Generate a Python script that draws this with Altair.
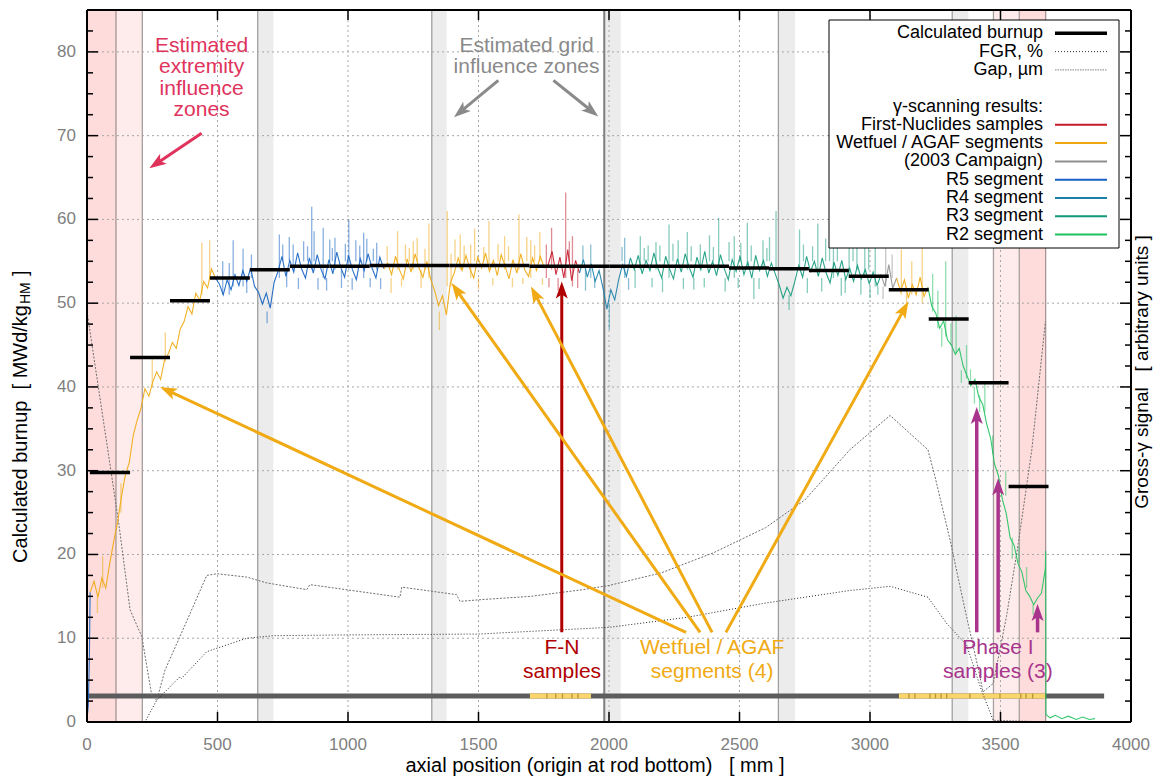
import math
import altair as alt
import pandas as pd

FONT = "Liberation Sans"
W, H = 1044, 712
XMAX, YMAX = 4000, 85
SX, SY = W / XMAX, H / YMAX
XS = alt.Scale(domain=[0, XMAX], nice=False, zero=False)
YS = alt.Scale(domain=[0, YMAX], nice=False, zero=False)

# ---------------- data ----------------
x_tick_values = [0, 500, 1000, 1500, 2000, 2500, 3000, 3500, 4000]
y_tick_values = [0, 10, 20, 30, 40, 50, 60, 70, 80]
y_minor_ticks = [i * 2.5 for i in range(35)]

# calculated burnup (step profile)
step_edges = [11, 165, 318, 471, 624, 777, 930, 1083, 1236, 1389, 1542, 1695, 1848,
              2001, 2154, 2307, 2460, 2613, 2766, 2919, 3072, 3225, 3378, 3531, 3684]
step_vals = [29.8, 43.5, 50.3, 53.0, 54.0, 54.4, 54.4, 54.5, 54.5, 54.5, 54.5, 54.4,
             54.4, 54.4, 54.4, 54.4, 54.2, 54.1, 53.9, 53.2, 51.6, 48.1, 40.5, 28.1]

# FGR, %
fgr_x = [0, 222, 267, 356, 362, 459, 612, 714, 1000, 1500, 2000, 2300, 2600, 2923,
         3077, 3222, 3293, 3370, 3427, 3472, 3690]
fgr_y = [0, 0, 2.6, 5.4, 5.2, 8.4, 10.0, 10.3, 10.4, 10.5, 11.3, 12.5, 14.2, 15.7,
         16.2, 14.9, 11.8, 9.2, 3.8, 0.2, 0]

# Gap, um
gap_x = [0, 120, 165, 210, 248, 267, 299, 356, 459, 497, 612, 689, 842, 854, 1199,
         1206, 1416, 1429, 1506, 1700, 1900, 2000, 2200, 2400, 2600, 2750, 2923, 3077,
         3222, 3249, 3307, 3364, 3416, 3433, 3472, 3523, 3568, 3620, 3672]
gap_y = [49, 24.1, 13.4, 10.2, 3.2, 2.6, 6.2, 10.2, 17.5, 17.7, 17.3, 16.6, 15.8,
         16.4, 14.9, 16.1, 15.2, 14.4, 14.6, 15.0, 15.8, 16.3, 17.8, 20.2, 23.2, 26.5,
         32.5, 36.6, 32.5, 29.3, 21.7, 13.4, 6.2, 3.6, 4.6, 12.6, 21.3, 32.5, 47.8]

# gamma scanning signal (sampled every 15 mm inside each segment)
lead_r5_x = [0, 5, 9, 12]
lead_r5_y = [0.3, 2.0, 7.5, 15.5]
wf1_x0, wf1_vals = 12, [15.5, 16.8, 14.9, 17.2, 16.0, 18.9, 21.5, 23.8, 26.9, 29.5, 31.0,
                        34.2, 36.0, 37.5, 39.8, 38.9, 40.6, 41.8, 40.9, 43.2, 44.0, 45.3,
                        44.6, 46.9, 47.8, 49.6, 48.7, 51.2, 50.3, 52.6, 51.8, 54.1, 53.0]
r5_x0, r5_vals = 492, [53.0, 52.3, 51.0, 52.8, 51.6, 53.4, 52.1, 53.9, 52.6, 54.2, 52.0,
                       51.3, 49.9, 51.2, 49.4, 52.5, 53.8, 55.6, 53.2, 55.1, 53.7, 56.0,
                       54.1, 53.0, 55.4, 53.6, 55.8, 54.0, 52.9, 55.2, 53.5, 56.1, 54.3,
                       53.1, 55.7, 54.0, 52.8, 55.3, 53.9, 55.9, 54.2, 53.0, 55.5, 54.1]
wf2_x0, wf2_vals = 1137, [54.1, 54.8, 53.4, 55.6, 54.0, 52.9, 55.3, 53.7, 55.9, 54.2, 53.1,
                          55.0, 52.8, 51.5, 49.7, 50.9, 48.6, 52.4, 53.6, 55.4, 53.9, 55.7,
                          54.1, 53.0, 55.5, 54.2, 56.0, 53.8, 55.1, 53.3, 55.8, 54.4, 52.9,
                          55.2, 53.6, 55.9, 54.0, 53.2, 55.4, 53.9, 55.6, 54.2]
fn_x0, fn_vals = 1752, [54.2, 54.6, 56.2, 53.4, 55.5, 53.0, 56.4, 52.7, 55.1, 53.6]
r4_x0, r4_vals = 1887, [53.6, 55.2, 53.1, 54.7, 52.6, 53.9, 51.8, 49.3, 51.6, 50.4, 52.8,
                        54.6, 53.2, 55.4]
r3_x0, r3_vals = 2082, [55.4, 54.0, 55.7, 53.5, 55.1, 53.9, 56.0, 54.2, 53.0, 55.6, 54.1,
                        52.9, 55.3, 53.7, 55.9, 54.3, 53.1, 55.5, 54.0, 56.2, 53.6, 55.0,
                        53.3, 55.8, 54.1, 52.8, 55.2, 53.8, 55.6, 53.4, 54.9, 53.0, 55.7,
                        53.9, 55.1, 53.2, 54.8, 53.5, 52.2, 50.6, 51.9, 50.9, 52.6, 54.5,
                        53.1, 55.6, 53.8, 55.0, 53.2, 55.4, 53.6, 52.4, 54.9, 53.3, 55.1,
                        52.8, 54.2, 52.6, 54.5, 52.9, 54.0, 52.3, 53.7, 52.1, 53.4]
c03_x0, c03_vals = 3042, [53.4, 52.0, 54.6, 51.8, 53.0]
wf3_x0, wf3_vals = 3102, [53.0, 51.4, 52.8, 50.6, 52.2, 51.0, 53.1, 50.8, 51.9]
r2_x0, r2_vals = 3222, [51.9, 49.6, 48.8, 47.0, 47.9, 45.6, 45.0, 43.9, 44.6, 42.5, 41.3,
                        40.2, 40.9, 38.8, 37.9, 35.6, 33.9, 30.8, 29.4, 26.6, 24.9, 22.0,
                        21.1, 18.9, 17.9, 15.7, 15.0, 14.0, 14.8, 15.4, 18.3]
r2_tail_x = [3672, 3673, 3674, 3690, 3710, 3735, 3760, 3790, 3815, 3840, 3862]
r2_tail_y = [18.3, 20.4, 0.9, 0.5, 0.8, 0.4, 0.7, 0.3, 0.6, 0.3, 0.4]

# single-sample spikes: (x, from, to)
spikes_wf = [(40, 15, 13.0), (60, 16, 19.8), (130, 25, 28.5), (250, 40, 43.5), (300, 43, 46.5),
             (440, 51, 57.2), (470, 53, 57.5), (1165, 53, 51.2), (1190, 54, 58.6), (1220, 55, 57.0),
             (1250, 54, 57.4), (1280, 54, 51.8), (1310, 53, 59.5), (1380, 52, 61.0),
             (1350, 49, 46.8), (1410, 55, 57.6), (1430, 54, 58.2), (1470, 53, 57.0),
             (1500, 53, 51.7), (1540, 54, 59.8), (1575, 55, 57.1), (1600, 54, 58.0),
             (1630, 53, 51.9), (1655, 54, 60.6), (1685, 55, 57.9), (1700, 53, 57.5),
             (1735, 55, 58.5), (1150, 55, 56.8), (1205, 53, 52.0), (1235, 55, 56.6),
             (1265, 55, 57.8), (1295, 54, 56.5), (1395, 52, 55.9), (1445, 55, 56.9),
             (1485, 55, 58.9), (1520, 55, 56.7), (1555, 53, 52.1), (1615, 55, 56.8),
             (1670, 53, 52.3), (1715, 55, 56.9), (1745, 53, 52.2),
             (3120, 51, 56.4), (3160, 51, 55.0), (3200, 50, 57.8), (3140, 52, 49.8)]
spikes_r5 = [(520, 51, 55.0), (560, 52, 57.5), (598, 52, 56.5), (630, 53, 55.8), (690, 49, 47.6),
             (737, 53, 58.2), (765, 54, 51.9), (790, 54, 57.0), (830, 55, 57.4),
             (861, 54, 61.5), (885, 53, 51.6), (905, 53, 59.0), (930, 55, 57.6),
             (950, 54, 57.8), (975, 54, 51.8), (1003, 54, 60.0), (1030, 55, 57.5),
             (1060, 53, 58.4), (1085, 53, 51.9), (1110, 54, 57.2), (545, 51, 54.8),
             (612, 53, 51.2), (750, 55, 57.0), (775, 55, 57.9), (810, 53, 51.7),
             (845, 55, 56.8), (870, 55, 58.6), (918, 53, 51.5), (940, 55, 56.6),
             (990, 55, 57.1), (1016, 53, 51.6), (1045, 55, 56.9), (1072, 55, 57.7),
             (1097, 55, 56.5), (1125, 53, 51.7)]
spikes_fn = [(1760, 53, 57.0), (1780, 54, 59.0), (1805, 53, 51.5), (1834, 53, 63.2),
             (1860, 52, 58.0), (1880, 54, 51.8), (1770, 53, 51.9), (1848, 55, 57.4)]
spikes_r4 = [(1910, 54, 51.5), (1930, 53, 57.0), (2001, 50, 46.8), (2060, 53, 57.8),
             (2075, 53, 51.6), (1900, 55, 56.9), (1945, 53, 51.8), (2050, 55, 56.7)]
spikes_r3 = [(2100, 54, 51.8), (2120, 54, 58.0), (2150, 55, 56.9), (2180, 54, 57.3),
             (2205, 53, 51.3), (2230, 53, 59.4), (2265, 55, 57.5), (2300, 54, 58.5),
             (2325, 53, 51.6), (2350, 54, 57.0), (2385, 55, 58.1), (2420, 54, 60.2),
             (2445, 53, 51.4), (2480, 53, 58.0), (2505, 55, 57.2), (2530, 54, 59.6),
             (2555, 53, 50.5), (2590, 54, 57.5), (2615, 55, 57.9), (2640, 54, 61.0),
             (2730, 54, 58.8), (2760, 53, 51.2), (2800, 54, 59.5), (2830, 55, 57.7),
             (2860, 53, 60.8), (2890, 53, 50.9), (2920, 53, 57.8), (2950, 54, 57.0),
             (2980, 53, 59.0), (3000, 52, 50.6), (3020, 52, 61.5), (2135, 55, 56.6),
             (2165, 53, 51.9), (2195, 55, 56.9), (2245, 55, 57.1), (2285, 53, 51.7),
             (2315, 55, 56.8), (2365, 53, 51.9), (2400, 55, 56.7), (2460, 55, 57.3),
             (2495, 53, 51.8), (2545, 55, 56.9), (2575, 53, 51.7), (2605, 55, 56.6),
             (2690, 51, 49.2), (2745, 55, 57.0), (2780, 55, 56.8), (2815, 53, 51.4),
             (2845, 55, 57.2), (2875, 55, 56.9), (2905, 53, 51.2), (2935, 55, 56.7),
             (2965, 53, 51.0), (2995, 54, 56.8), (3030, 52, 51.0)]
spikes_03 = [(3060, 52, 57.0), (3085, 53, 55.8), (3050, 52, 50.5)]
spikes_r2 = [(3240, 49, 53.5), (3260, 47, 51.5), (3290, 46, 55.0), (3330, 44, 48.5),
             (3370, 41, 45.0), (3400, 40, 38.0), (3440, 37, 40.5), (3520, 27, 30.0),
             (3545, 22, 19.5), (3600, 16, 18.5), (3275, 47, 44.8), (3310, 45, 47.6),
             (3350, 42, 40.5), (3385, 40, 42.1), (3420, 39, 37.0), (3470, 32, 34.2),
             (3495, 29, 26.5), (3570, 19, 21.0), (3625, 14, 12.8)]

# influence zones
band_start = [0, 111, 654, 1321, 1982, 2649, 3315, 3473, 3572]
band_end = [111, 212, 714, 1378, 2045, 2713, 3377, 3572, 3673]
band_kind = ["extremity", "extremity-out", "grid", "grid", "grid", "grid", "grid",
             "extremity-out", "extremity"]

# bottom strip (measured rod / sampled parts)
strip_end = 3897
strip_y = 3.1
yellow_start = [1697, 3111]
yellow_end = [1931, 3671]
yellow_marks = [1762, 1796, 1822, 1858, 1881, 3149, 3172, 3230, 3251, 3272, 3294, 3383,
                3498, 3578, 3598, 3623]

# ---------------- styles ----------------
COL_FN = "#c41a2a"
COL_WF = "#f0a810"
COL_03 = "#8e8e8e"
COL_R5 = "#1462c2"
COL_R4 = "#1a80a8"
COL_R3 = "#12997c"
COL_R2 = "#1fc25e"
BAND_FILL = {"extremity": "#fddcdb", "extremity-out": "#fdeceb", "grid": "#ececec"}
BAND_EDGE = {"extremity": "#a89494", "extremity-out": "#a8a0a0", "grid": "#a0a0a0"}
GRID_COL = "#a6a6a6"
LABEL_COL = "#808080"

layers = []
one = pd.DataFrame({"a": [0]})

# zones
df_b = pd.DataFrame({"x0": band_start, "x1": band_end, "kind": band_kind})
df_b["fill"] = df_b["kind"].map(BAND_FILL)
layers.append(alt.Chart(df_b).mark_rect().encode(
    x=alt.X("x0:Q", scale=XS, axis=None), x2="x1:Q", y=alt.value(0), y2=alt.value(H),
    color=alt.Color("fill:N", scale=None)))

# grid (dotted)
layers.append(alt.Chart(pd.DataFrame({"x": x_tick_values[1:-1]})).mark_rule(
    strokeWidth=1, color=GRID_COL, strokeDash=[2, 3]).encode(
    x=alt.X("x:Q", scale=XS, axis=None), y=alt.value(0), y2=alt.value(H)))
layers.append(alt.Chart(pd.DataFrame({"y": y_tick_values[1:]})).mark_rule(
    strokeWidth=1, color=GRID_COL, strokeDash=[2, 3]).encode(
    y=alt.Y("y:Q", scale=YS, axis=None), x=alt.value(0), x2=alt.value(W)))

# zone edges
edges = []
for s, e, k in zip(band_start, band_end, band_kind):
    if s > 0:
        edges.append((s, BAND_EDGE[k]))
    if k != "grid":
        edges.append((e, BAND_EDGE[k]))
df_e = pd.DataFrame(edges, columns=["x", "c"]).drop_duplicates("x")
layers.append(alt.Chart(df_e).mark_rule(strokeWidth=1.3).encode(
    x=alt.X("x:Q", scale=XS, axis=None), y=alt.value(0), y2=alt.value(H),
    color=alt.Color("c:N", scale=None)))
layers.append(alt.Chart(pd.DataFrame({"x": [1982]})).mark_rule(strokeWidth=2, color="#808080").encode(
    x=alt.X("x:Q", scale=XS, axis=None), y=alt.value(0), y2=alt.value(H)))

# bottom strip
layers.append(alt.Chart(pd.DataFrame({"x0": [0], "x1": [strip_end], "y": [strip_y]}))
              .mark_rule(strokeWidth=5, color="#5c5c5c").encode(
    x=alt.X("x0:Q", scale=XS, axis=None), x2="x1:Q", y=alt.Y("y:Q", scale=YS, axis=None)))
layers.append(alt.Chart(pd.DataFrame({"x0": yellow_start, "x1": yellow_end, "y": [strip_y] * 2}))
              .mark_rule(strokeWidth=5, color="#f9d56c").encode(
    x=alt.X("x0:Q", scale=XS, axis=None), x2="x1:Q", y=alt.Y("y:Q", scale=YS, axis=None)))
layers.append(alt.Chart(pd.DataFrame({"x": yellow_marks, "y0": [strip_y - 0.3] * len(yellow_marks),
                                      "y1": [strip_y + 0.3] * len(yellow_marks)}))
              .mark_rule(strokeWidth=1.3, color="#b8962e").encode(
    x=alt.X("x:Q", scale=XS, axis=None), y=alt.Y("y0:Q", scale=YS, axis=None), y2="y1:Q"))

# FGR and gap
layers.append(alt.Chart(pd.DataFrame({"x": gap_x, "y": gap_y})).mark_line(
    color="#6e6e6e", strokeWidth=1, strokeDash=[2, 1.5]).encode(
    x=alt.X("x:Q", scale=XS, axis=None), y=alt.Y("y:Q", scale=YS, axis=None)))
layers.append(alt.Chart(pd.DataFrame({"x": fgr_x, "y": fgr_y})).mark_line(
    color="#222222", strokeWidth=1, strokeDash=[1, 2]).encode(
    x=alt.X("x:Q", scale=XS, axis=None), y=alt.Y("y:Q", scale=YS, axis=None)))

# gamma signal
rows = []
def add_seg(name, col, xs, ys):
    for xv, yv in zip(xs, ys):
        rows.append({"x": xv, "y": yv, "seg": name, "c": col})

def grid_x(x0, vals):
    return [x0 + 15 * i for i in range(len(vals))]

add_seg("lead", COL_R5, lead_r5_x, lead_r5_y)
add_seg("wf1", COL_WF, grid_x(wf1_x0, wf1_vals), wf1_vals)
add_seg("r5", COL_R5, grid_x(r5_x0, r5_vals), r5_vals)
add_seg("wf2", COL_WF, grid_x(wf2_x0, wf2_vals), wf2_vals)
add_seg("fn", COL_FN, grid_x(fn_x0, fn_vals), fn_vals)
add_seg("r4", COL_R4, grid_x(r4_x0, r4_vals), r4_vals)
add_seg("r3", COL_R3, grid_x(r3_x0, r3_vals), r3_vals)
add_seg("c03", COL_03, grid_x(c03_x0, c03_vals), c03_vals)
add_seg("wf3", COL_WF, grid_x(wf3_x0, wf3_vals), wf3_vals)
add_seg("r2", COL_R2, grid_x(r2_x0, r2_vals), r2_vals)
add_seg("r2tail", COL_R2, r2_tail_x, r2_tail_y)
df_sig = pd.DataFrame(rows)

sp_rows = []
for lst, col in [(spikes_wf, COL_WF), (spikes_r5, COL_R5), (spikes_fn, COL_FN), (spikes_r4, COL_R4),
                 (spikes_r3, COL_R3), (spikes_03, COL_03), (spikes_r2, COL_R2)]:
    for xv, lo, hi in lst:
        sp_rows.append({"x": xv, "lo": lo, "hi": hi, "c": col})
df_sp = pd.DataFrame(sp_rows)
layers.append(alt.Chart(df_sp).mark_rule(strokeWidth=1.3, opacity=0.5).encode(
    x=alt.X("x:Q", scale=XS, axis=None), y=alt.Y("lo:Q", scale=YS, axis=None), y2="hi:Q",
    color=alt.Color("c:N", scale=None)))
layers.append(alt.Chart(df_sig).mark_line(strokeWidth=1.1, opacity=0.9).encode(
    x=alt.X("x:Q", scale=XS, axis=None), y=alt.Y("y:Q", scale=YS, axis=None),
    detail="seg:N", color=alt.Color("c:N", scale=None), order="x:Q"))

# calculated burnup
df_st = pd.DataFrame({"x0": step_edges[:-1], "x1": step_edges[1:], "v": step_vals})
layers.append(alt.Chart(df_st).mark_rule(strokeWidth=3.5, color="black").encode(
    x=alt.X("x0:Q", scale=XS, axis=None), x2="x1:Q", y=alt.Y("v:Q", scale=YS, axis=None)))

# annotation arrows
HEAD = "M0,0 L0.6,1.7 L0,1.3 L-0.6,1.7 Z"
arrows = [
    (439, 70.3, 239, 66.1, "#e0335c", 3),
    (1576, 76.6, 1406, 72.2, "#8a8a8a", 3),
    (1787, 76.6, 1959, 72.3, "#8a8a8a", 3),
    (1819, 10.7, 1819, 52.6, "#b00000", 3),
    (2295, 10.7, 280, 40.0, "#f0aa14", 3),
    (2349, 10.7, 1397, 52.4, "#f0aa14", 3),
    (2395, 10.7, 1701, 52.0, "#f0aa14", 3),
    (2448, 10.7, 3147, 50.2, "#f0aa14", 3),
    (3409, 10.7, 3409, 37.6, "#a8348c", 3.5),
    (3491, 10.7, 3491, 29.1, "#a8348c", 3.5),
    (3642, 10.7, 3642, 14.1, "#a8348c", 3.5),
]
ar_rows = []
for x1, y1, x2, y2, col, w in arrows:
    dxp, dyp = (x2 - x1) * SX, -(y2 - y1) * SY
    L = math.hypot(dxp, dyp)
    ang = math.degrees(math.atan2(dxp, -dyp)) % 360
    f = (L - 11) / L
    ar_rows.append({"x1": x1, "y1": y1, "xe": x1 + (x2 - x1) * f, "ye": y1 + (y2 - y1) * f,
                    "x2": x2, "y2": y2, "ang": ang, "c": col, "w": w})
df_ar = pd.DataFrame(ar_rows)
for w in sorted(df_ar["w"].unique()):
    sub = df_ar[df_ar["w"] == w]
    layers.append(alt.Chart(sub).mark_rule(strokeWidth=float(w)).encode(
        x=alt.X("x1:Q", scale=XS, axis=None), y=alt.Y("y1:Q", scale=YS, axis=None),
        x2="xe:Q", y2="ye:Q", color=alt.Color("c:N", scale=None)))
layers.append(alt.Chart(df_ar).mark_point(shape=HEAD, filled=True, size=400, opacity=1,
                                          strokeWidth=0).encode(
    x=alt.X("x2:Q", scale=XS, axis=None), y=alt.Y("y2:Q", scale=YS, axis=None),
    angle=alt.Angle("ang:Q", scale=None), color=alt.Color("c:N", scale=None)))

# annotation texts
notes = [
    ("Estimated", 439, 80.7, "#e0335c"), ("extremity", 439, 78.2, "#e0335c"),
    ("influence", 439, 75.6, "#e0335c"), ("zones", 439, 73.1, "#e0335c"),
    ("Estimated grid", 1684, 80.7, "#8a8a8a"), ("influence zones", 1684, 78.2, "#8a8a8a"),
    ("F-N", 1820, 8.8, "#b00000"), ("samples", 1820, 6.0, "#b00000"),
    ("Wetfuel / AGAF", 2395, 8.8, "#f0aa14"), ("segments (4)", 2395, 6.0, "#f0aa14"),
    ("Phase I", 3490, 8.8, "#a8348c"), ("samples (3)", 3490, 6.0, "#a8348c"),
]
df_n = pd.DataFrame(notes, columns=["t", "x", "y", "c"])
layers.append(alt.Chart(df_n).mark_text(font=FONT, fontSize=21, baseline="middle", align="center").encode(
    x=alt.X("x:Q", scale=XS, axis=None), y=alt.Y("y:Q", scale=YS, axis=None), text="t:N",
    color=alt.Color("c:N", scale=None)))

# legend
layers.append(alt.Chart(one).mark_rect(fill="white", stroke="black", strokeWidth=1).encode(
    x=alt.value(742), x2=alt.value(1032), y=alt.value(10), y2=alt.value(238)))
legend_items = [
    ("Calculated burnup", "black", 3.5, None),
    ("FGR, %", "#333333", 1, [1, 2]),
    ("Gap, \u00b5m", "#808080", 1, [1.5, 1]),
    (None, None, None, None),
    ("\u03b3-scanning results:", None, None, None),
    ("First-Nuclides samples", COL_FN, 2, None),
    ("Wetfuel / AGAF segments", COL_WF, 2, None),
    ("(2003 Campaign)", COL_03, 2, None),
    ("R5 segment", COL_R5, 2, None),
    ("R4 segment", COL_R4, 2, None),
    ("R3 segment", COL_R3, 2, None),
    ("R2 segment", COL_R2, 2, None),
]
for i, (lab, col, w, dash) in enumerate(legend_items):
    py = 23.3 + 18.3 * i
    if lab is None:
        continue
    layers.append(alt.Chart(one).mark_text(text=lab, font=FONT, fontSize=18, align="right",
                                           baseline="middle", color="black").encode(
        x=alt.value(956), y=alt.value(py)))
    if col is not None:
        kw = dict(strokeWidth=w, color=col)
        if dash:
            kw["strokeDash"] = dash
        layers.append(alt.Chart(one).mark_rule(**kw).encode(
            x=alt.value(968), x2=alt.value(1020), y=alt.value(py)))

# frame and inward ticks
for enc in [dict(x=alt.value(0), x2=alt.value(W), y=alt.value(0)),
            dict(x=alt.value(0), x2=alt.value(W), y=alt.value(H)),
            dict(x=alt.value(0), y=alt.value(0), y2=alt.value(H)),
            dict(x=alt.value(W), y=alt.value(0), y2=alt.value(H))]:
    layers.append(alt.Chart(one).mark_rule(strokeWidth=2, color="black").encode(**enc))
df_xt = pd.DataFrame({"x": x_tick_values[1:-1]})
for y0, y1 in [(H, H - 10), (0, 10)]:
    layers.append(alt.Chart(df_xt).mark_rule(strokeWidth=1.5, color="black").encode(
        x=alt.X("x:Q", scale=XS, axis=None), y=alt.value(y0), y2=alt.value(y1)))
df_ymin = pd.DataFrame({"y": [v for v in y_minor_ticks if v % 10 != 0]})
df_ymaj = pd.DataFrame({"y": y_tick_values[1:]})
for df_t, ln in [(df_ymin, 6), (df_ymaj, 11)]:
    for x0, x1 in [(0, ln), (W - ln, W)]:
        layers.append(alt.Chart(df_t).mark_rule(strokeWidth=1.5, color="black").encode(
            y=alt.Y("y:Q", scale=YS, axis=None), x=alt.value(x0), x2=alt.value(x1)))

# tick labels
df_xl = pd.DataFrame({"x": x_tick_values, "t": [str(v) for v in x_tick_values]})
layers.append(alt.Chart(df_xl).mark_text(font=FONT, fontSize=17, color=LABEL_COL, align="center",
                                         baseline="middle").encode(
    x=alt.X("x:Q", scale=XS, axis=None), y=alt.value(H + 23), text="t:N"))
df_yl = pd.DataFrame({"y": y_tick_values, "t": [str(v) for v in y_tick_values]})
layers.append(alt.Chart(df_yl).mark_text(font=FONT, fontSize=17, color=LABEL_COL, align="right",
                                         baseline="middle").encode(
    y=alt.Y("y:Q", scale=YS, axis=None), x=alt.value(-11), text="t:N"))

# axis titles
layers.append(alt.Chart(one).mark_text(text="axial position (origin at rod bottom)\u00a0\u00a0\u00a0[ mm ]",
                                       font=FONT, fontSize=20, align="center", baseline="middle",
                                       color="black").encode(x=alt.value(508), y=alt.value(H + 44)))
layers.append(alt.Chart(one).mark_text(text="Calculated burnup\u00a0\u00a0[ MWd/kg", font=FONT,
                                       fontSize=20, align="right", baseline="middle", angle=270,
                                       color="black").encode(x=alt.value(-66), y=alt.value(295)))
layers.append(alt.Chart(one).mark_text(text="HM", font=FONT, fontSize=14, align="left",
                                       baseline="middle", angle=270, dy=5, color="black").encode(
    x=alt.value(-66), y=alt.value(294)))
layers.append(alt.Chart(one).mark_text(text="]", font=FONT, fontSize=20, align="left",
                                       baseline="middle", angle=270, color="black").encode(
    x=alt.value(-66), y=alt.value(266)))
layers.append(alt.Chart(one).mark_text(text="Gross-\u03b3 signal\u00a0\u00a0\u00a0[ arbitrary units ]",
                                       font=FONT, fontSize=19, align="center", baseline="middle",
                                       angle=270, color="black").encode(x=alt.value(W + 11), y=alt.value(362)))

chart = alt.layer(*layers).properties(
    width=W, height=H,
    autosize=alt.AutoSizeParams(type="none"),
    padding={"left": 79, "top": 2, "right": 22, "bottom": 55},
).configure_view(stroke=None).configure_text(font=FONT)

chart.save("out.html", embed_options={"renderer": "svg", "actions": False})
